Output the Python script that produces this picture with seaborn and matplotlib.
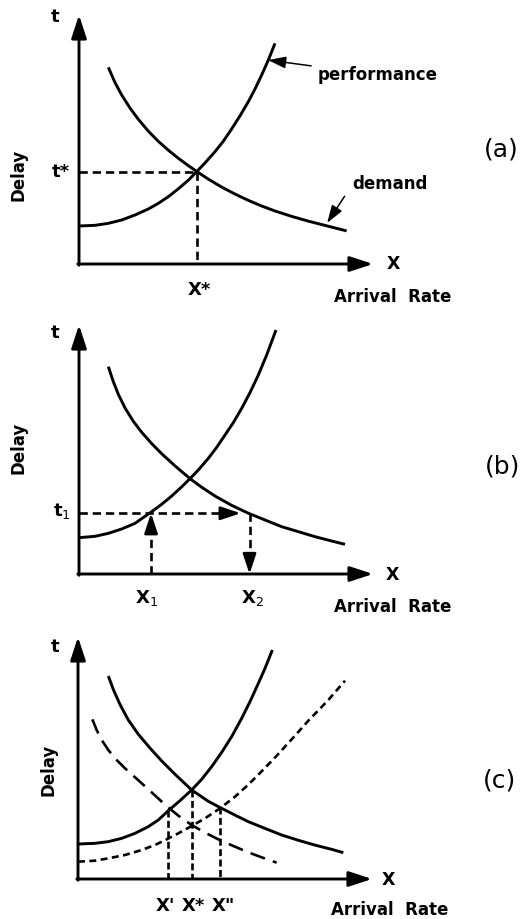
import matplotlib
matplotlib.use("Agg")
import matplotlib.pyplot as plt
import seaborn as sns
import pandas as pd

sns.set_style("white")
plt.rcParams['font.family'] = ['DejaVu Sans']
plt.rcParams['lines.scale_dashes'] = False

# ---------------- data (abstract units: arrival rate x, delay t) ----------------
# panel (a)
a_perf_x = [0.0, 0.544, 0.998, 1.451, 1.905, 2.358, 2.698, 3.039, 3.379, 3.719, 4.002,
            4.286, 4.626, 4.909, 5.193, 5.476, 5.760, 5.986, 6.213, 6.440, 6.667]
a_perf_t = [1.526, 1.553, 1.633, 1.767, 1.968, 2.209, 2.436, 2.704, 3.020, 3.365, 3.708,
            4.060, 4.511, 4.930, 5.425, 5.950, 6.519, 7.028, 7.590, 8.193, 8.862]
a_dem_x = [0.998, 1.224, 1.451, 1.735, 2.018, 2.358, 2.698, 3.039, 3.379, 3.719, 4.002,
           4.399, 4.853, 5.306, 5.760, 6.213, 6.667, 7.234, 7.800, 8.481, 9.104]
a_dem_t = [7.898, 7.288, 6.789, 6.264, 5.811, 5.335, 4.927, 4.569, 4.246, 3.950, 3.718,
           3.408, 3.090, 2.809, 2.555, 2.329, 2.129, 1.913, 1.721, 1.516, 1.329]
a_eq_x, a_eq_t = 4.0, 3.71

# panel (b)
b_perf_x = [0.0, 0.544, 0.998, 1.451, 1.905, 2.472, 2.812, 3.152, 3.492, 3.776, 4.059,
            4.399, 4.683, 4.966, 5.249, 5.533, 5.816, 6.100, 6.383, 6.701]
b_perf_t = [1.459, 1.513, 1.633, 1.807, 2.035, 2.503, 2.800, 3.130, 3.500, 3.830, 4.177,
            4.645, 5.087, 5.582, 6.080, 6.653, 7.283, 7.992, 8.795, 9.799]
b_dem_x = [0.998, 1.168, 1.338, 1.565, 1.848, 2.132, 2.472, 2.812, 3.265, 3.776, 4.172,
           4.626, 5.193, 5.760, 6.327, 6.893, 7.460, 8.027, 8.594, 9.048]
b_dem_t = [8.327, 7.724, 7.214, 6.669, 6.131, 5.691, 5.239, 4.831, 4.342, 3.830, 3.485,
           3.131, 2.757, 2.440, 2.169, 1.901, 1.700, 1.499, 1.325, 1.191]
b_t1 = 2.44
b_x1 = 2.45
b_x2 = 5.80

# panel (c)
c_perf_x = [0.0, 0.578, 1.032, 1.485, 1.939, 2.392, 2.732, 3.073, 3.469, 3.866, 4.206,
            4.546, 4.887, 5.227, 5.567, 5.850, 6.134, 6.361, 6.610]
c_perf_t = [1.446, 1.474, 1.543, 1.680, 1.887, 2.163, 2.438, 2.824, 3.237, 3.678, 4.118,
            4.642, 5.234, 5.882, 6.639, 7.328, 8.085, 8.705, 9.463]
c_dem_x = [1.032, 1.202, 1.429, 1.712, 2.052, 2.449, 2.846, 3.299, 3.866, 4.433, 4.830,
           5.340, 5.794, 6.361, 6.927, 7.494, 8.061, 8.628, 9.025]
c_dem_t = [8.388, 7.830, 7.210, 6.570, 5.980, 5.410, 4.880, 4.330, 3.678, 3.210, 2.955,
           2.640, 2.369, 2.090, 1.818, 1.600, 1.400, 1.226, 1.088]
c_dem2_x = [0.488, 0.635, 0.805, 1.032, 1.259, 1.599, 2.052, 2.506, 2.959, 3.413, 3.866,
            4.320, 4.773, 5.283, 5.794, 6.247, 6.757]
c_dem2_t = [6.598, 6.157, 5.744, 5.331, 4.986, 4.573, 4.080, 3.581, 3.070, 2.617, 2.231,
            1.915, 1.639, 1.364, 1.102, 0.895, 0.675]
c_perf2_x = [0.0, 0.578, 1.032, 1.599, 2.166, 2.619, 3.016, 3.413, 3.866, 4.320, 4.830,
             5.340, 5.794, 6.247, 6.701, 7.268, 7.834, 8.515, 9.082]
c_perf2_t = [0.716, 0.757, 0.854, 0.992, 1.198, 1.405, 1.639, 1.887, 2.190, 2.507, 2.920,
             3.402, 3.900, 4.450, 5.020, 5.771, 6.540, 7.397, 8.196]
c_marks_x = [3.05, 3.89, 4.83]
c_marks_t = [2.85, 3.68, 2.96]
c_label_x = [2.96, 3.91, 4.93]
c_mark_labels = ["X'", "X*", 'X"']

W, H = 529, 919
fig = plt.figure(figsize=(W / 100, H / 100), dpi=100)

def make_ax(x0, y0, xtip, ytop):
    ax = fig.add_axes([x0 / W, 1 - y0 / H, (xtip - x0) / W, (y0 - ytop) / H])
    ax.set_xlim(0, 10)
    ax.set_ylim(0, 10)
    ax.axis('off')
    return ax

LW = 2.1
BOLD = dict(fontweight='bold', color='black')

def axes_frame(ax, t_xy, delay_xy, ar_xy, x_xy, tag, tag_xy):
    head = 'head_length=1.4,head_width=0.46'
    ax.annotate('', xy=(10, 0), xytext=(-0.04, 0), annotation_clip=False,
                arrowprops=dict(arrowstyle='-|>,' + head, lw=LW, color='black',
                                shrinkA=0, shrinkB=0))
    ax.annotate('', xy=(0, 10), xytext=(0, -0.05), annotation_clip=False,
                arrowprops=dict(arrowstyle='-|>,' + head, lw=LW, color='black',
                                shrinkA=0, shrinkB=0))
    ax.text(*t_xy, 't', fontsize=13, ha='center', va='center', clip_on=False, **BOLD)
    ax.text(*x_xy, 'X', fontsize=12.5, ha='center', va='center', clip_on=False, **BOLD)
    ax.text(*delay_xy, 'Delay', fontsize=12, rotation=90, ha='center', va='center',
            clip_on=False, **BOLD)
    ax.text(*ar_xy, 'Arrival  Rate', fontsize=12, ha='center', va='center',
            clip_on=False, **BOLD)
    ax.text(*tag_xy, tag, fontsize=18, ha='center', va='center', clip_on=False,
            color='black')

def curve(ax, xs, ts, **kw):
    df = pd.DataFrame({'x': xs, 't': ts})
    sns.lineplot(data=df, x='x', y='t', ax=ax, sort=False, estimator=None,
                 color='black', lw=kw.pop('lw', LW), solid_capstyle='butt',
                 solid_joinstyle='round', **kw)

DASH = (0, (6, 3.5))

# ---------------- panel (a) ----------------
axa = make_ax(79, 264, 373, 15)
axes_frame(axa, (-0.8, 9.9), (-2.07, 3.57), (10.68, -1.33), (10.68, 0.0), '(a)', (14.35, 4.58))
curve(axa, a_perf_x, a_perf_t)
curve(axa, a_dem_x, a_dem_t)
axa.plot([0, a_eq_x], [a_eq_t, a_eq_t], color='black', lw=1.9, ls=DASH)
axa.plot([a_eq_x, a_eq_x], [a_eq_t, 0], color='black', lw=1.9, ls=DASH)
axa.text(-0.3, a_eq_t, 't*', fontsize=13, ha='right', va='center', clip_on=False, **BOLD)
axa.text(a_eq_x + 0.1, -1.05, 'X*', fontsize=13, ha='center', va='center', clip_on=False, **BOLD)
axa.annotate('performance', xy=(6.43, 8.19), xytext=(8.1, 7.6), fontsize=12,
             ha='left', va='center', annotation_clip=False, **BOLD,
             arrowprops=dict(arrowstyle='-|>,head_length=0.9,head_width=0.3', lw=1.1,
                             color='black', shrinkA=2, shrinkB=0))
axa.annotate('demand', xy=(8.44, 1.65), xytext=(9.3, 3.2), fontsize=12,
             ha='left', va='center', annotation_clip=False, **BOLD,
             arrowprops=dict(arrowstyle='-|>,head_length=0.9,head_width=0.3', lw=1.1,
                             color='black', shrinkA=6, shrinkB=0,
                             relpos=(0.0, 0.5)))

# ---------------- panel (b) ----------------
axb = make_ax(79, 574, 373, 325)
axes_frame(axb, (-0.82, 9.68), (-2.07, 5.06), (10.68, -1.33), (10.65, -0.04), '(b)', (14.42, 4.30))
curve(axb, b_perf_x, b_perf_t)
curve(axb, b_dem_x, b_dem_t)
ah = dict(arrowstyle='-|>,head_length=1.2,head_width=0.4', lw=1.9, color='black',
          shrinkA=0, shrinkB=0)
axb.plot([0, 4.9], [b_t1, b_t1], color='black', lw=1.9, ls=DASH)
axb.annotate('', xy=(b_x2 - 0.3, b_t1), xytext=(4.85, b_t1), arrowprops=ah)
axb.plot([b_x1, b_x1], [0, b_t1 - 0.5], color='black', lw=1.9, ls=DASH)
axb.annotate('', xy=(b_x1, b_t1), xytext=(b_x1, b_t1 - 0.55), arrowprops=ah)
axb.plot([b_x2, b_x2], [b_t1, 0.6], color='black', lw=1.9, ls=DASH)
axb.annotate('', xy=(b_x2, 0.0), xytext=(b_x2, 0.65), arrowprops=ah)
axb.text(-0.3, b_t1 + 0.1, 't$_1$', fontsize=13, ha='right', va='center', clip_on=False, **BOLD)
axb.text(b_x1 - 0.15, -0.95, 'X$_1$', fontsize=13, ha='center', va='center', clip_on=False, **BOLD)
axb.text(b_x2 + 0.1, -0.95, 'X$_2$', fontsize=13, ha='center', va='center', clip_on=False, **BOLD)

# ---------------- panel (c) ----------------
axc = make_ax(78, 879, 372, 637)
axes_frame(axc, (-0.78, 9.59), (-1.02, 4.50), (10.61, -1.28), (10.55, -0.05), '(c)', (14.35, 4.09))
curve(axc, c_perf_x, c_perf_t)
curve(axc, c_dem_x, c_dem_t)
curve(axc, c_dem2_x, c_dem2_t, lw=1.9, ls=(0, (11, 6)))
curve(axc, c_perf2_x, c_perf2_t, lw=1.9, ls=(0, (5, 3.2)))
for mx, mt, lx, lab in zip(c_marks_x, c_marks_t, c_label_x, c_mark_labels):
    axc.plot([mx, mx], [mt, 0], color='black', lw=1.9, ls=(0, (5, 2.5)))
    axc.text(lx, -1.1, lab, fontsize=13, ha='center', va='center', clip_on=False, **BOLD)

fig.savefig('out.png', dpi=100, facecolor='white')
